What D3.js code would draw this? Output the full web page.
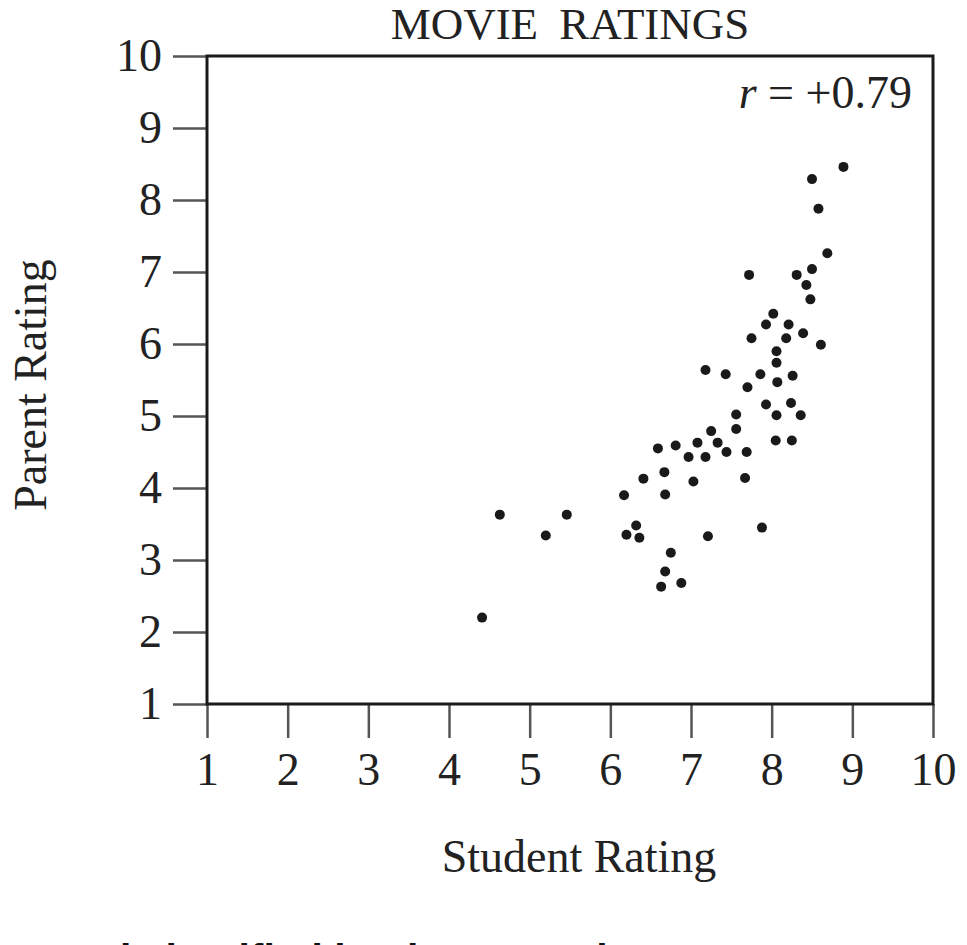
<!DOCTYPE html>
<html>
<head>
<meta charset="utf-8">
<script src="https://cdn.jsdelivr.net/npm/d3@7"></script>
<style>
  body { margin: 0; background: #fff; }
  svg { display: block; }
  .tick text { font-family: "Liberation Serif", "DejaVu Serif", serif; fill: #222; }
</style>
</head>
<body>
<div id="chart"></div>
<script>
// student rating (x) and parent rating (y), one entry per movie
var studentRating = [
  8.89, 8.50, 8.58, 8.69, 7.72, 8.31, 8.50, 8.43, 8.48, 8.02,
  7.93, 8.21, 7.75, 8.18, 8.39, 8.61, 8.06, 8.06, 7.18, 7.43,
  7.86, 8.07, 8.26, 7.70, 7.93, 8.24, 7.56, 8.06, 8.36, 7.56,
  7.25, 8.05, 8.25, 6.59, 6.81, 7.08, 7.33, 6.97, 7.18, 7.44,
  7.69, 6.67, 7.03, 7.67, 6.68, 7.88, 7.21, 6.75, 6.68, 6.63,
  6.88, 6.41, 6.17, 4.63, 5.46, 5.20, 6.32, 6.20, 6.36, 4.41
];
var parentRating = [
  8.46, 8.29, 7.88, 7.26, 6.96, 6.96, 7.04, 6.82, 6.62, 6.42,
  6.27, 6.27, 6.08, 6.08, 6.15, 5.99, 5.90, 5.74, 5.64, 5.58,
  5.58, 5.47, 5.56, 5.40, 5.16, 5.18, 5.02, 5.01, 5.01, 4.82,
  4.79, 4.66, 4.66, 4.55, 4.59, 4.63, 4.63, 4.43, 4.43, 4.50,
  4.50, 4.22, 4.09, 4.14, 3.91, 3.45, 3.33, 3.10, 2.84, 2.63,
  2.68, 4.13, 3.90, 3.63, 3.63, 3.34, 3.48, 3.35, 3.31, 2.20
];
var tickValues = [1, 2, 3, 4, 5, 6, 7, 8, 9, 10];

var width = 967, height = 945;
var plotL = 207, plotR = 933, plotT = 56, plotB = 704;
var serif = '"Liberation Serif", "DejaVu Serif", serif';

var svg = d3.select('#chart').append('svg')
  .attr('width', width)
  .attr('height', height);

var x = d3.scaleLinear().domain([1, 10]).range([plotL, plotR]);
var y = d3.scaleLinear().domain([1, 10]).range([plotB, plotT]);

// axes (tick marks + labels); the frame is drawn on its own below
var xAxis = svg.append('g')
  .attr('transform', 'translate(0,' + plotB + ')')
  .call(d3.axisBottom(x).tickValues(tickValues).tickSize(34).tickPadding(14).tickFormat(d3.format('d')));
var yAxis = svg.append('g')
  .attr('transform', 'translate(' + plotL + ',0)')
  .call(d3.axisLeft(y).tickValues(tickValues).tickSize(34).tickPadding(11).tickFormat(d3.format('d')));

[xAxis, yAxis].forEach(function(ax) {
  ax.select('.domain').remove();
  ax.selectAll('.tick line').attr('stroke', '#555').attr('stroke-width', 2.5);
  ax.selectAll('.tick text').style('font-size', '46px');
});

// plot frame
svg.append('rect')
  .attr('x', plotL)
  .attr('y', plotT)
  .attr('width', plotR - plotL)
  .attr('height', plotB - plotT)
  .attr('fill', 'none')
  .attr('stroke', '#1a1a1a')
  .attr('stroke-width', 3);

// points
svg.append('g').selectAll('circle')
  .data(studentRating)
  .enter().append('circle')
  .attr('cx', function(d) { return x(d); })
  .attr('cy', function(d, i) { return y(parentRating[i]); })
  .attr('r', 5)
  .attr('fill', '#1a1a1a');

// title
svg.append('text')
  .attr('x', 570)
  .attr('y', 39)
  .attr('text-anchor', 'middle')
  .style('font-family', serif)
  .style('font-size', '45px')
  .style('fill', '#222')
  .style('word-spacing', '10px')
  .text('MOVIE RATINGS');

// correlation label
var rText = svg.append('text')
  .attr('x', 912)
  .attr('y', 108)
  .attr('text-anchor', 'end')
  .style('font-family', serif)
  .style('font-size', '46px')
  .style('fill', '#222');
rText.append('tspan').style('font-style', 'italic').text('r');
rText.append('tspan').text(' = +0.79');

// axis titles
svg.append('text')
  .attr('x', 579)
  .attr('y', 872)
  .attr('text-anchor', 'middle')
  .style('font-family', serif)
  .style('font-size', '46px')
  .style('fill', '#222')
  .text('Student Rating');

svg.append('text')
  .attr('transform', 'translate(46,385) rotate(-90)')
  .attr('text-anchor', 'middle')
  .style('font-family', serif)
  .style('font-size', '46px')
  .style('fill', '#222')
  .text('Parent Rating');

// question text, cut off by the bottom edge of the picture
svg.append('text')
  .attr('x', 120)
  .attr('y', 973)
  .style('font-family', '"Liberation Sans", Arial, sans-serif')
  .style('font-weight', 'bold')
  .style('font-size', '41px')
  .style('fill', '#111')
  .text('is justified by the example?');
</script>
</body>
</html>
